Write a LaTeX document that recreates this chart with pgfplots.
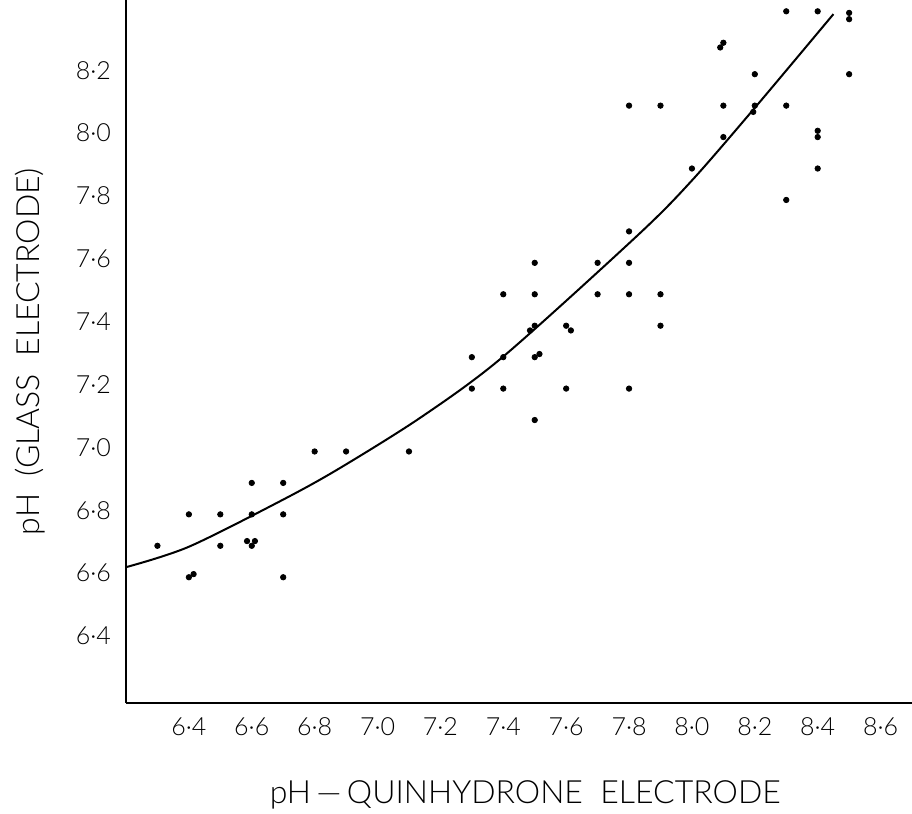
\documentclass[border=0pt]{standalone}
\usepackage{fontspec}
\setmainfont{Lato Light}
\usepackage{pgfplots}
\pgfplotsset{compat=1.18}
\begin{document}
\begin{tikzpicture}
\begin{axis}[
    name=ax,
    scale only axis,
    width=393pt, height=351.5pt,
    xmin=6.2, xmax=8.7,
    ymin=6.2, ymax=8.436,
    axis x line=bottom, axis y line=left,
    axis line style={line width=1.3pt, -},
    major tick length=0pt,
    xtick={6.4,6.6,6.8,7.0,7.2,7.4,7.6,7.8,8.0,8.2,8.4,8.6},
    xticklabels={6·4,6·6,6·8,7·0,7·2,7·4,7·6,7·8,8·0,8·2,8·4,8·6},
    ytick={6.4,6.6,6.8,7.0,7.2,7.4,7.6,7.8,8.0,8.2},
    yticklabels={6·4,6·6,6·8,7·0,7·2,7·4,7·6,7·8,8·0,8·2},
    tick label style={font=\fontsize{12.5}{14}\selectfont},
    xticklabel style={yshift=-4pt},
    yticklabel style={xshift=-4pt, yshift=2pt},
    xlabel={pH\,—\,QUINHYDRONE\ \ ELECTRODE},
    ylabel={pH\ \ (GLASS\ \ ELECTRODE)},
    xlabel style={at={(axis description cs:0.508,-0.1309)}, anchor=center, font=\fontsize{16}{18}\selectfont},
    ylabel style={at={(axis description cs:-0.1221,0.5)}, anchor=center, rotate=0, font=\fontsize{16}{18}\selectfont},
]
% measurements
\addplot[only marks, mark=*, mark size=1.35pt, black] coordinates {
    (6.3,6.7) (6.4,6.8) (6.5,6.8) (6.6,6.9) (6.7,6.9) (6.7,6.8)
    (6.6,6.8) (6.5,6.7) (6.585,6.715) (6.61,6.715) (6.6,6.7)
    (6.4,6.6) (6.415,6.61) (6.7,6.6) (6.8,7.0) (6.9,7.0) (7.1,7.0)
    (7.5,7.6) (7.7,7.6) (7.8,7.6) (7.4,7.5) (7.5,7.5) (7.7,7.5)
    (7.8,7.5) (7.9,7.5) (7.5,7.4) (7.485,7.385) (7.6,7.4) (7.615,7.385)
    (7.9,7.4) (7.3,7.3) (7.4,7.3) (7.5,7.3) (7.515,7.31) (7.3,7.2)
    (7.4,7.2) (7.6,7.2) (7.8,7.2) (7.5,7.1)
    (8.3,8.4) (8.4,8.4) (8.5,8.395) (8.5,8.375) (8.1,8.3) (8.09,8.285)
    (8.2,8.2) (8.5,8.2) (7.8,8.1) (7.9,8.1) (8.1,8.1) (8.2,8.1)
    (8.195,8.08) (8.3,8.1) (8.1,8.0) (8.4,8.02) (8.4,8.0) (8.0,7.9)
    (8.4,7.9) (8.3,7.8) (7.8,7.7)
};
% fitted curve
\addplot[smooth, line width=1pt, black] coordinates {
    (6.2,6.632) (6.40,6.697) (6.70,6.847) (6.88,6.947) (7.14,7.110)
    (7.40,7.302) (7.83,7.690) (8.00,7.862) (8.20,8.093) (8.45,8.391)
};
\end{axis}
\pgfresetboundingbox
\path[use as bounding box] ([xshift=-63pt,yshift=-55pt]ax.south west) rectangle (ax.north east);
\end{tikzpicture}
\end{document}
